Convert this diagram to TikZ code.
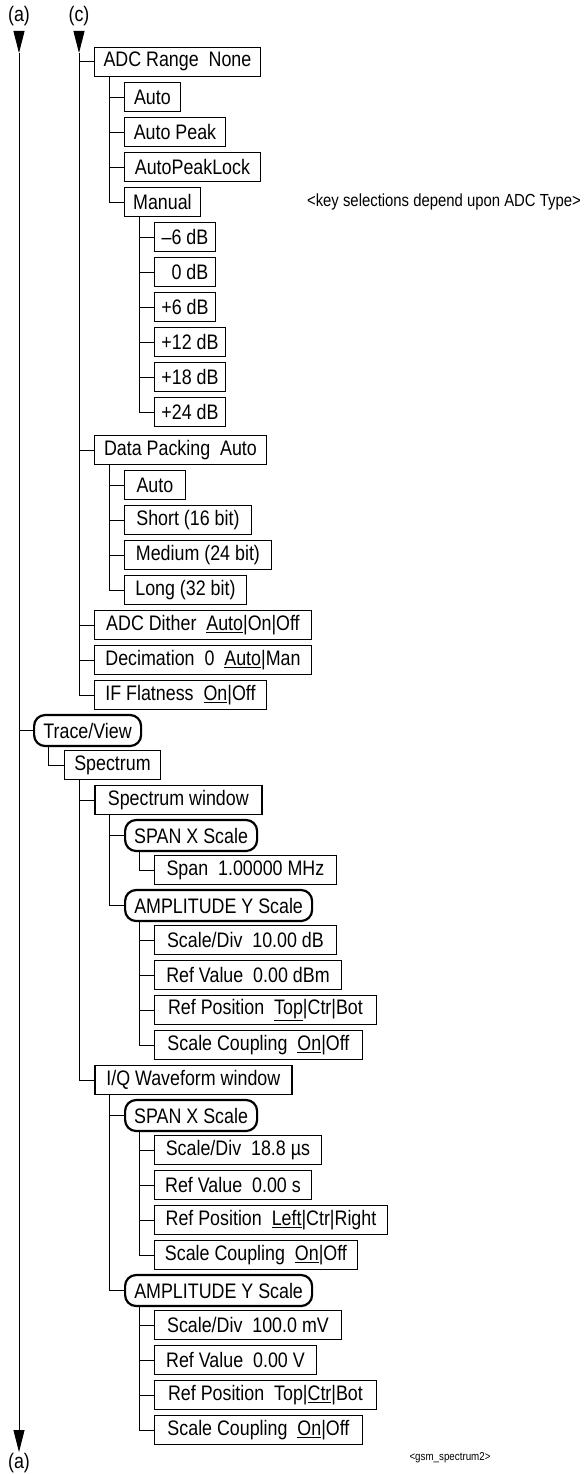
\documentclass[tikz,border=0pt]{standalone}
\usepackage{fontspec}
\setmainfont{Liberation Sans}[FakeStretch=0.85]
\usetikzlibrary{arrows.meta}

% elbow from a parent key down to one of its children
\newcommand{\branch}[2]{\draw[conn] ([xshift=15pt]#1.south west) |- (#2.west);}

\begin{document}
\begin{tikzpicture}[
    x=1pt, y=-1pt,
    >={Triangle[length=22pt, width=11pt]},
    every node/.style={font=\fontsize{21}{24}\selectfont, inner sep=0pt},
    key/.style={draw, line width=0.9pt, minimum height=29pt, anchor=west},
    winkey/.style={key, line width=1.6pt},
    menu/.style={draw, line width=2.2pt, rounded corners=11pt,
                 minimum height=31pt, anchor=west},
    conn/.style={line width=0.9pt},
  ]

  \useasboundingbox (0,0) rectangle (586,1474);

  % Continuation markers
  \node (alabel) at (19,16) {(a)};
  \node (clabel) at (79,16) {(c)};
  \node (aend) at (19,1463) {(a)};
  \coordinate (atop) at (19,31);
  \coordinate (atip) at (19,53);
  \coordinate (abot) at (19,1452);
  \coordinate (ctop) at (79,31);
  \coordinate (ctip) at (79,53);

  % ADC keys
  \node[key, minimum width=166pt] (adc) at (94,61.5) {ADC Range~~None};
  \node[key, minimum width=56pt] (auto1) at (124,97) {Auto};
  \node[key, minimum width=101pt] (autopeak) at (124,132) {Auto Peak};
  \node[key, minimum width=136pt] (apl) at (124,167) {AutoPeakLock};
  \node[key, minimum width=76pt] (manual) at (124,202) {Manual};
  \node[anchor=east, font=\fontsize{17.5}{20}\selectfont] (keynote) at (581,202)
    {<key selections depend upon ADC Type>};

  \node[key, minimum width=61pt] (dbm6) at (154,237) {–6 dB};
  \node[key, minimum width=61pt] (db0) at (154,272) {\phantom{–}0 dB};
  \node[key, minimum width=61pt] (db6) at (154,307) {+6 dB};
  \node[key, minimum width=71pt] (db12) at (154,342) {+12 dB};
  \node[key, minimum width=71pt] (db18) at (154,377) {+18 dB};
  \node[key, minimum width=71pt] (db24) at (154,412) {+24 dB};

  \node[key, minimum width=172pt] (datapack) at (94,450) {Data Packing~~Auto};
  \node[key, minimum width=61pt] (auto2) at (124,485) {Auto};
  \node[key, minimum width=127pt] (short) at (124,520) {Short (16 bit)};
  \node[key, minimum width=147pt] (medium) at (124,555) {Medium (24 bit)};
  \node[key, minimum width=122pt] (long) at (124,590) {Long (32 bit)};

  \node[key, minimum width=217pt] (dither) at (94,625)
    {ADC Dither~~\underline{Auto}|On|Off};
  \node[key, minimum width=217pt] (decim) at (94,660)
    {Decimation~~0~~\underline{Auto}|Man};
  \node[key, minimum width=172pt] (iff) at (94,695)
    {IF Flatness~~\underline{On}|Off};

  % Trace/View keys
  \node[menu, minimum width=107pt] (trace) at (33,730.5) {Trace/View};
  \node[key, minimum width=96pt] (spectrum) at (64,765) {Spectrum};

  \node[winkey, minimum width=167pt] (specwin) at (94,800) {Spectrum window};
  \node[menu, minimum width=132pt] (spanx1) at (124,835.5) {SPAN X Scale};
  \node[key, minimum width=182pt] (span) at (154,870) {Span~~1.00000 MHz};
  \node[menu, minimum width=187pt] (ampy1) at (124,905.5) {AMPLITUDE Y Scale};
  \node[key, minimum width=182pt] (sdiv1) at (154,940) {Scale/Div~~10.00 dB};
  \node[key, minimum width=187pt] (rval1) at (154,975) {Ref Value~~0.00 dBm};
  \node[key, minimum width=222pt] (rpos1) at (154,1010)
    {Ref Position~~\underline{Top}|Ctr|Bot};
  \node[key, minimum width=208pt] (scoup1) at (154,1045)
    {Scale Coupling~~\underline{On}|Off};

  \node[winkey, minimum width=197pt] (iqwin) at (94,1080) {I/Q Waveform window};
  \node[menu, minimum width=132pt] (spanx2) at (124,1115.5) {SPAN X Scale};
  \node[key, minimum width=167pt] (sdiv2) at (154,1150) {Scale/Div~~18.8 µs};
  \node[key, minimum width=157pt] (rval2) at (154,1185) {Ref Value~~0.00 s};
  \node[key, minimum width=233pt] (rpos2) at (154,1220)
    {Ref Position~~\underline{Left}|Ctr|Right};
  \node[key, minimum width=203pt] (scoup2) at (154,1255)
    {Scale Coupling~~\underline{On}|Off};
  \node[menu, minimum width=187pt] (ampy2) at (124,1290.5) {AMPLITUDE Y Scale};
  \node[key, minimum width=187pt] (sdiv3) at (154,1325) {Scale/Div~~100.0 mV};
  \node[key, minimum width=162pt] (rval3) at (154,1360) {Ref Value~~0.00 V};
  \node[key, minimum width=222pt] (rpos3) at (154,1395)
    {Ref Position~~Top|\underline{Ctr}|Bot};
  \node[key, minimum width=208pt] (scoup3) at (154,1430)
    {Scale Coupling~~\underline{On}|Off};

  \node[font=\fontsize{11.5}{13}\selectfont] (figname) at (450,1458)
    {<gsm\_spectrum2>};

  % Main lines
  \draw[conn, ->] (atop) -- (atip);
  \draw[conn, ->] (atip) -- (abot);
  \draw[conn, ->] (ctop) -- (ctip);
  \draw[conn] (ctip) |- (iff.west);
  \draw[conn] (ctip |- adc.west) -- (adc.west);
  \draw[conn] (ctip |- datapack.west) -- (datapack.west);
  \draw[conn] (ctip |- dither.west) -- (dither.west);
  \draw[conn] (ctip |- decim.west) -- (decim.west);
  \draw[conn] (atip |- trace.west) -- (trace.west);

  % Branches
  \branch{adc}{auto1}
  \branch{adc}{autopeak}
  \branch{adc}{apl}
  \branch{adc}{manual}
  \branch{manual}{dbm6}
  \branch{manual}{db0}
  \branch{manual}{db6}
  \branch{manual}{db12}
  \branch{manual}{db18}
  \branch{manual}{db24}
  \branch{datapack}{auto2}
  \branch{datapack}{short}
  \branch{datapack}{medium}
  \branch{datapack}{long}
  \branch{trace}{spectrum}
  \branch{spectrum}{specwin}
  \branch{spectrum}{iqwin}
  \branch{specwin}{spanx1}
  \branch{specwin}{ampy1}
  \branch{spanx1}{span}
  \branch{ampy1}{sdiv1}
  \branch{ampy1}{rval1}
  \branch{ampy1}{rpos1}
  \branch{ampy1}{scoup1}
  \branch{iqwin}{spanx2}
  \branch{iqwin}{ampy2}
  \branch{spanx2}{sdiv2}
  \branch{spanx2}{rval2}
  \branch{spanx2}{rpos2}
  \branch{spanx2}{scoup2}
  \branch{ampy2}{sdiv3}
  \branch{ampy2}{rval3}
  \branch{ampy2}{rpos3}
  \branch{ampy2}{scoup3}

\end{tikzpicture}
\end{document}
